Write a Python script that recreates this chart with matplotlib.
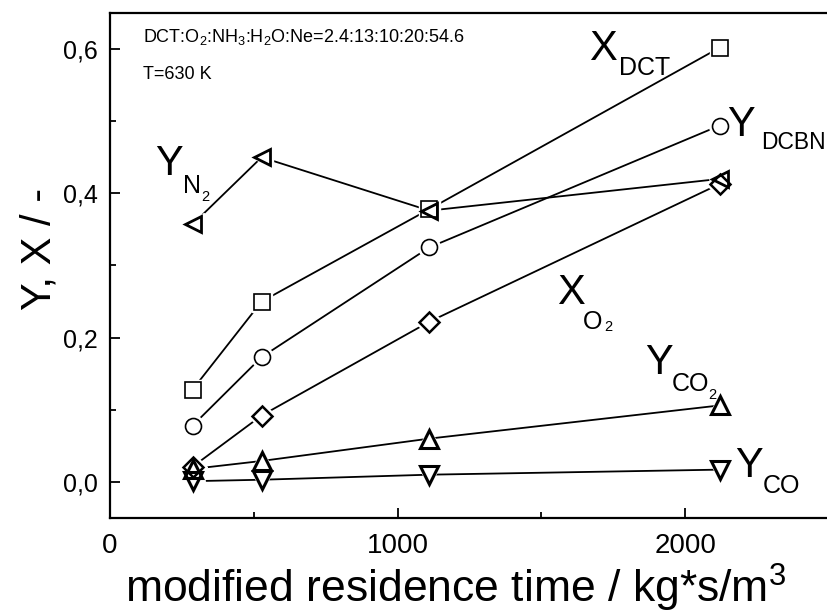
import matplotlib
matplotlib.use("Agg")
import matplotlib.pyplot as plt
from matplotlib.ticker import MultipleLocator, FuncFormatter

plt.rcParams["font.family"] = ["Liberation Sans", "DejaVu Sans"]
plt.rcParams["mathtext.fontset"] = "custom"
plt.rcParams["mathtext.rm"] = "Liberation Sans"
plt.rcParams["mathtext.it"] = "Liberation Sans"
plt.rcParams["mathtext.default"] = "regular"

# residence time points (kg*s/m^3)
tau = [287, 527, 1110, 2120]

x_dct = [0.128, 0.250, 0.378, 0.602]
y_dcbn = [0.078, 0.173, 0.325, 0.494]
x_o2 = [0.021, 0.092, 0.222, 0.413]
y_co2 = [0.018, 0.029, 0.060, 0.106]
y_co = [0.001, 0.003, 0.010, 0.017]
y_n2 = [0.357, 0.450, 0.376, 0.420]

# (values, marker, size, edge width)
series = [
    (y_n2, "<", 12, 2.0),
    (x_dct, "s", 11, 1.2),
    (y_dcbn, "o", 11.5, 1.2),
    (x_o2, "D", 10, 1.8),
    (y_co2, "^", 13, 2.2),
    (y_co, "v", 13, 2.2),
]

fig = plt.figure(figsize=(8.28, 6.14), dpi=100)
ax = fig.add_axes([0.1329, 0.1564, 0.8684, 0.8225])

# lines, then white halos (gap at markers), then open markers
for vals, m, ms, mew in series:
    ax.plot(tau, vals, color="black", lw=1.3, zorder=2)
for vals, m, ms, mew in series:
    ax.plot(tau, vals, ls="none", marker=m, ms=ms + 4, mfc="white",
            mec="white", mew=1, zorder=3)
for vals, m, ms, mew in series:
    ax.plot(tau, vals, ls="none", marker=m, ms=ms, mfc="none",
            mec="black", mew=mew, zorder=4)

ax.set_xlim(0, 2500)
ax.set_ylim(-0.05, 0.65)
ax.xaxis.set_major_locator(MultipleLocator(1000))
ax.xaxis.set_minor_locator(MultipleLocator(500))
ax.yaxis.set_major_locator(MultipleLocator(0.2))
ax.yaxis.set_minor_locator(MultipleLocator(0.1))
ax.xaxis.set_major_formatter(FuncFormatter(lambda v, p: f"{v:.0f}"))
ax.yaxis.set_major_formatter(FuncFormatter(lambda v, p: f"{v:.1f}".replace(".", ",")))
ax.tick_params(which="both", direction="in", width=1.3)
ax.tick_params(which="major", length=7)
ax.tick_params(which="minor", length=4)
ax.tick_params(axis="x", labelsize=20, pad=11)
ax.tick_params(axis="y", labelsize=18, pad=9)
for s in ax.spines.values():
    s.set_linewidth(1.6)

fig.text(456 / 828, 1 - 603 / 614, "modified residence time / kg*s/m$^3$",
         fontsize=32, ha="center", va="baseline")
fig.text(40 / 828, 1 - 249 / 614, "Y, X / -", fontsize=30, rotation=90,
         ha="center", va="center")

ax.text(115, 0.610, "DCT:O$_2$:NH$_3$:H$_2$O:Ne=2.4:13:10:20:54.6",
        fontsize=13, va="baseline")
ax.text(115, 0.559, "T=630 K", fontsize=13, va="baseline")

# species labels: main letter, subscript, optional nested "2" (offsets in px)
labels = [
    (1665, 0.585, "X", "DCT", (30, -15), None, None),
    (2145, 0.479, "Y", "DCBN", (34, -13), None, None),
    (156, 0.426, "Y", "N", (28, -18), "2", (46, -26)),
    (1554, 0.246, "X", "O", (26, -25), "2", (47, -27)),
    (1860, 0.149, "Y", "CO", (27, -17), "2", (63, -25)),
    (2172, 0.007, "Y", "CO", (28, -16), None, None),
]
px = 0.72
for x, y, main, sub, off, sub2, off2 in labels:
    ax.text(x, y, main, fontsize=30, va="baseline", ha="left")
    fs = 16.5 if sub == "DCBN" else 18
    ax.annotate(sub, (x, y), xytext=(off[0] * px, off[1] * px),
                textcoords="offset points", fontsize=fs, va="baseline")
    if sub2:
        ax.annotate(sub2, (x, y), xytext=(off2[0] * px, off2[1] * px),
                    textcoords="offset points", fontsize=10.5, va="baseline")

fig.savefig("out.png", dpi=100)
